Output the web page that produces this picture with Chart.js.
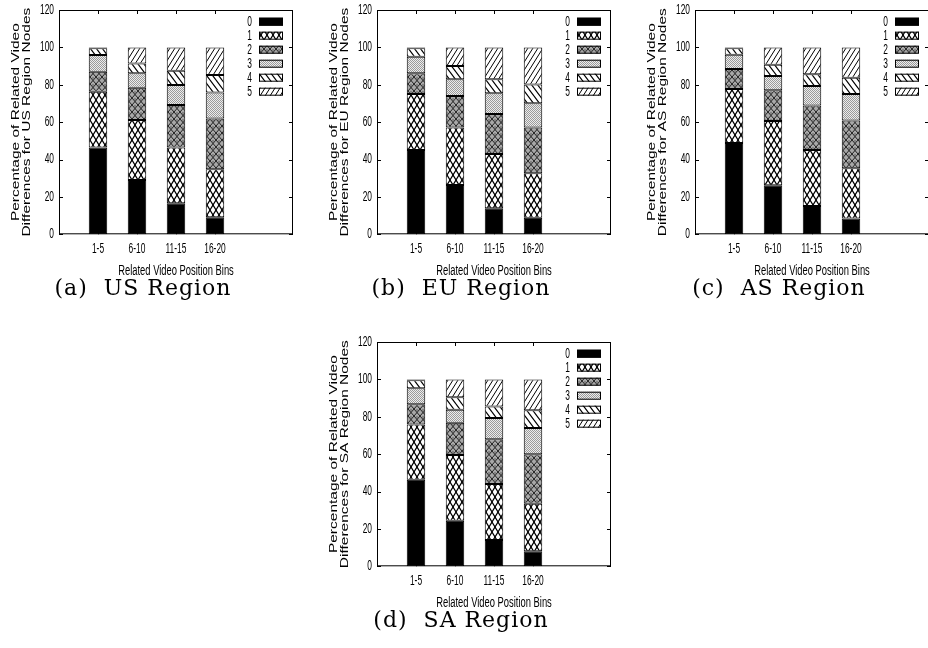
<!DOCTYPE html>
<html>
<head>
<meta charset="utf-8">
<script src="https://cdn.jsdelivr.net/npm/chart.js@4.4.1/dist/chart.umd.min.js"></script>
<style>
  body { margin: 0; width: 928px; height: 648px; overflow: hidden; position: relative; background: #fff; }
  .panel { position: absolute; width: 300px; height: 310px; }
  .panel canvas { position: absolute; left: 0; top: 0; }
  .cap { position: absolute; left: 0; width: 286px; top: 277px; text-align: center; white-space: pre;
         font-family: "DejaVu Serif", serif; font-size: 22px; line-height: 22px; letter-spacing: 1px; color: #000; }
</style>
</head>
<body>
<div class="panel" style="left:0px;top:0px"><canvas id="chartUS" width="300" height="282"></canvas><div class="cap">(a)  US Region</div></div>
<div class="panel" style="left:318px;top:0px"><canvas id="chartEU" width="300" height="282"></canvas><div class="cap">(b)  EU Region</div></div>
<div class="panel" style="left:636px;top:0px"><canvas id="chartAS" width="300" height="282"></canvas><div class="cap">(c)  AS Region</div></div>
<div class="panel" style="left:318px;top:332px"><canvas id="chartSA" width="300" height="282"></canvas><div class="cap">(d)  SA Region</div></div>
<script>
"use strict";

const bins = ['1-5', '6-10', '11-15', '16-20'];
const diffLabels = ['0', '1', '2', '3', '4', '5'];
const yTicks = [0, 20, 40, 60, 80, 100, 120];

// one row per number of differences (0..5), one value per position bin
const usValues = [
  [46.5, 29.1, 16.6, 9.1],
  [29.8, 32.0, 29.9, 25.7],
  [10.7, 17.3, 22.7, 27.2],
  [8.9, 7.7, 10.7, 13.8],
  [3.6, 5.3, 7.6, 9.4],
  [0.5, 8.6, 12.5, 14.8]
];
const euValues = [
  [45.1, 26.4, 13.9, 8.9],
  [29.9, 30.8, 29.1, 23.7],
  [11.1, 16.8, 21.3, 24.6],
  [8.9, 8.9, 11.1, 12.9],
  [4.5, 7.1, 7.5, 10.1],
  [0.5, 10.0, 17.1, 19.8]
];
const asValues = [
  [48.8, 26.2, 15.2, 8.4],
  [29.0, 34.4, 29.9, 26.9],
  [10.6, 16.4, 23.8, 25.6],
  [7.6, 7.7, 10.4, 14.2],
  [3.5, 6.0, 6.3, 8.6],
  [0.5, 9.3, 14.4, 16.3]
];
const saValues = [
  [46.3, 24.4, 14.1, 8.1],
  [29.6, 35.2, 29.9, 25.4],
  [10.8, 17.2, 24.0, 26.5],
  [8.5, 7.0, 11.3, 14.0],
  [4.3, 6.6, 6.2, 9.5],
  [0.5, 9.6, 14.5, 16.5]
];

const sans = "'Liberation Sans', Arial, sans-serif";

function tile(w, h, draw) {
  const c = document.createElement('canvas');
  c.width = w; c.height = h;
  const g = c.getContext('2d');
  draw(g, w, h);
  return g.createPattern(c, 'repeat');
}

// draw a line repeated over the neighbouring tiles so the pattern has no seams
function wrapLine(g, w, h, x1, y1, x2, y2) {
  g.beginPath();
  for (let dx = -w; dx <= w; dx += w) {
    for (let dy = -h; dy <= h; dy += h) {
      g.moveTo(x1 + dx, y1 + dy);
      g.lineTo(x2 + dx, y2 + dy);
    }
  }
  g.stroke();
}

const fills = [
  '#000',
  tile(6, 10, (g, w, h) => {
    g.fillStyle = '#fff'; g.fillRect(0, 0, w, h);
    g.strokeStyle = '#000'; g.lineWidth = 1.2;
    wrapLine(g, w, h, 0, 0, w, h);
    wrapLine(g, w, h, w, 0, 0, h);
  }),
  tile(6, 7, (g, w, h) => {
    g.fillStyle = '#a8a8a8'; g.fillRect(0, 0, w, h);
    g.strokeStyle = '#222'; g.lineWidth = 1;
    wrapLine(g, w, h, 0, 0, w, h);
    wrapLine(g, w, h, w, 0, 0, h);
    g.fillStyle = '#777';
    g.beginPath(); g.arc(w / 2, 1, 1, 0, Math.PI * 2); g.fill();
  }),
  tile(2, 2, (g, w, h) => {
    g.fillStyle = '#ececec'; g.fillRect(0, 0, w, h);
    g.fillStyle = '#9a9a9a'; g.fillRect(0, 0, 1, 1); g.fillRect(1, 1, 1, 1);
  }),
  tile(6, 8, (g, w, h) => {
    g.fillStyle = '#fff'; g.fillRect(0, 0, w, h);
    g.strokeStyle = '#000'; g.lineWidth = 1.2;
    wrapLine(g, w, h, 0, 0, w, h);
  }),
  tile(5, 8, (g, w, h) => {
    g.fillStyle = '#fff'; g.fillRect(0, 0, w, h);
    g.strokeStyle = '#000'; g.lineWidth = 1;
    wrapLine(g, w, h, 0, h, w, 0);
  })
];

// text squeezed sideways, like the narrow Helvetica of the original
function squeezed(ctx, text, x, y, align, sx) {
  ctx.save();
  ctx.translate(x, y);
  ctx.scale(sx, 1);
  ctx.textAlign = align;
  ctx.fillText(text, 0, 0);
  ctx.restore();
}

// gnuplot style frame: closed border, inward mirrored tics, labels, rotated y label, key in the corner
const frame = {
  id: 'frame',
  afterDatasetsDraw(chart, args, opts) {
    const { ctx, chartArea: a, scales: { x, y } } = chart;
    ctx.save();
    ctx.strokeStyle = '#000';
    ctx.lineWidth = 1;
    ctx.strokeRect(a.left + 0.5, a.top + 0.5, a.right - a.left - 1, a.bottom - a.top - 1);
    ctx.beginPath();
    yTicks.forEach(v => {
      const py = Math.round(y.getPixelForValue(v)) + 0.5;
      ctx.moveTo(a.left, py); ctx.lineTo(a.left + 4, py);
      ctx.moveTo(a.right, py); ctx.lineTo(a.right - 4, py);
    });
    bins.forEach((b, i) => {
      const px = Math.round(x.getPixelForValue(i)) + 0.5;
      ctx.moveTo(px, a.bottom); ctx.lineTo(px, a.bottom - 4);
      ctx.moveTo(px, a.top); ctx.lineTo(px, a.top + 4);
    });
    ctx.stroke();

    ctx.fillStyle = '#000';
    ctx.textBaseline = 'middle';
    ctx.font = '14px ' + sans;
    yTicks.forEach(v => squeezed(ctx, String(v), a.left - 5, y.getPixelForValue(v), 'right', 0.6));
    bins.forEach((b, i) => squeezed(ctx, b, x.getPixelForValue(i), a.bottom + 15, 'center', 0.6));
    squeezed(ctx, opts.xTitle, (a.left + a.right) / 2, a.bottom + 36.5, 'center', 0.67);

    // y axis title, two lines, squeezed like the original
    const cy = (a.top + a.bottom) / 2;
    ctx.textAlign = 'center';
    ctx.font = '15.5px ' + sans;
    opts.yTitle.forEach((line, i) => {
      ctx.save();
      ctx.translate(a.left - 42.5 + 11 * i, cy);
      ctx.rotate(-Math.PI / 2);
      ctx.scale(1, 0.66);
      ctx.fillText(line, 0, 0);
      ctx.restore();
    });

    // key
    ctx.font = '14px ' + sans;
    chart.data.datasets.forEach((ds, i) => {
      const ry = a.top + 11.7 + 14 * i;
      ctx.fillStyle = ds.backgroundColor;
      ctx.fillRect(a.right - 34, ry - 4, 24, 8);
      ctx.strokeRect(a.right - 33.5, ry - 3.5, 23, 7);
      ctx.fillStyle = '#000';
      squeezed(ctx, ds.label, a.right - 41, ry + 0.5, 'right', 0.6);
    });
    ctx.restore();
  }
};

function makeChart(id, values, region) {
  const datasets = diffLabels.map((lab, k) => ({
    label: lab,
    data: values[k].map((v, i) => ({ x: i, y: v })),
    backgroundColor: fills[k],
    borderColor: '#000',
    borderWidth: 1,
    borderSkipped: false,
    barPercentage: 0.474,
    categoryPercentage: 1
  }));

  return new Chart(document.getElementById(id), {
    type: 'bar',
    data: { datasets },
    options: {
      responsive: false,
      animation: false,
      devicePixelRatio: 1,
      layout: { padding: { top: 10, right: 7, left: 0, bottom: 0 } },
      plugins: {
        legend: { display: false },
        tooltip: { enabled: false },
        frame: {
          xTitle: 'Related Video Position Bins',
          yTitle: ['Percentage of Related Video', 'Differences for ' + region + ' Region Nodes']
        }
      },
      scales: {
        x: {
          type: 'linear',
          min: -1,
          max: 5,
          stacked: true,
          offset: false,
          grid: { display: false, drawTicks: false },
          border: { display: false },
          ticks: { display: false, stepSize: 1 },
          afterFit: s => { s.height = 47.7; }
        },
        y: {
          min: 0,
          max: 120,
          stacked: true,
          grid: { display: false, drawTicks: false },
          border: { display: false },
          ticks: { display: false, stepSize: 20 },
          afterFit: s => { s.width = 59; }
        }
      }
    },
    plugins: [frame]
  });
}

makeChart('chartUS', usValues, 'US');
makeChart('chartEU', euValues, 'EU');
makeChart('chartAS', asValues, 'AS');
makeChart('chartSA', saValues, 'SA');
</script>
</body>
</html>
